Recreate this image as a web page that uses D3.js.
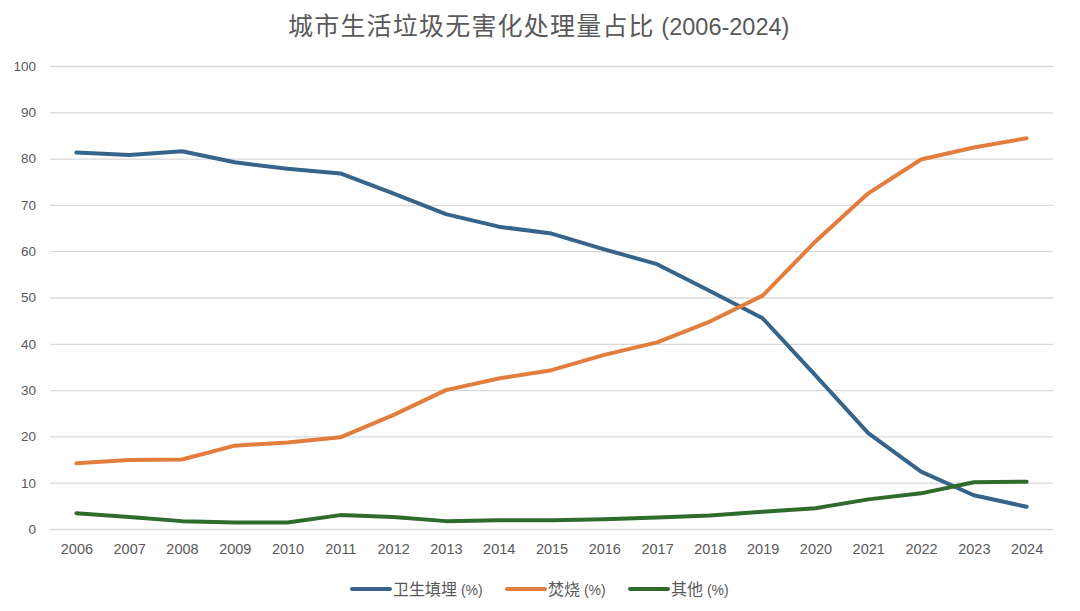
<!DOCTYPE html>
<html><head><meta charset="utf-8">
<script src="https://cdn.jsdelivr.net/npm/d3@7"></script>
<style>
body{margin:0;background:#fff;}
text{font-family:"Liberation Sans",Arial,"Noto Sans CJK SC",sans-serif;}
</style></head>
<body>
<svg id="c" width="1080" height="611"></svg>
<script>
const years = ["2006","2007","2008","2009","2010","2011","2012","2013","2014","2015","2016","2017","2018","2019","2020","2021","2022","2023","2024"];
const landfill = [81.3,80.8,81.6,79.2,77.8,76.8,72.5,68.0,65.3,63.8,60.4,57.2,51.4,45.5,33.2,20.7,12.4,7.3,4.8];
const incineration = [14.2,14.9,15.0,18.0,18.7,19.8,24.6,30.0,32.5,34.3,37.6,40.3,44.8,50.4,62.1,72.5,79.8,82.4,84.4];
const other = [3.4,2.6,1.7,1.4,1.4,3.0,2.6,1.7,1.9,1.9,2.1,2.5,2.9,3.7,4.5,6.4,7.7,10.1,10.2];
const yTicks = [0,10,20,30,40,50,60,70,80,90,100];
const seriesCJK = ["卫生填埋","焚烧","其他"];
const seriesUnit = " (%)";
const seriesColors = ["#36648b","#e27d3d","#2e6b2c"];
const titleCJK = "城市生活垃圾无害化处理量占比";
const titleLatin = " (2006-2024)";

const svg = d3.select("#c");
const x = d3.scalePoint().domain(years).range([50,1053]).padding(0.5);
const y = d3.scaleLinear().domain([0,100]).range([529,66]);

const t = svg.append("text").attr("x",288).attr("y",35).attr("fill","#595959");
t.append("tspan").attr("font-family","'Noto Sans CJK SC',sans-serif").attr("font-size",25)
  .attr("letter-spacing",1.2).text(titleCJK);
t.append("tspan").attr("font-size",23.5).text(titleLatin);

const gy = svg.append("g").attr("transform","translate(50,0)")
  .call(d3.axisLeft(y).tickValues(yTicks).tickSize(-1003).tickPadding(14));
gy.select(".domain").remove();
gy.selectAll(".tick line").attr("stroke","#d9d9d9").attr("stroke-width",1.3);
gy.selectAll(".tick text").attr("fill","#595959").attr("font-size",13.5);

const gx = svg.append("g").attr("transform","translate(0,529)")
  .call(d3.axisBottom(x).tickSize(0).tickPadding(15));
gx.select(".domain").remove();
gx.selectAll(".tick text").attr("fill","#595959").attr("font-size",14.5);

const line = d3.line().x((d,i)=>x(years[i])).y(d=>y(d));
[landfill,incineration,other].forEach((s,i)=>{
  svg.append("path").datum(s).attr("d",line).attr("fill","none")
    .attr("stroke",seriesColors[i]).attr("stroke-width",4)
    .attr("stroke-linecap","round").attr("stroke-linejoin","round");
});

const legX = [352,507,630];
const lg = svg.append("g");
seriesCJK.forEach((n,i)=>{
  lg.append("line").attr("x1",legX[i]).attr("x2",legX[i]+38).attr("y1",589).attr("y2",589)
    .attr("stroke",seriesColors[i]).attr("stroke-width",4).attr("stroke-linecap","round");
  const tx = lg.append("text").attr("x",legX[i]+41).attr("y",595).attr("fill","#595959");
  tx.append("tspan").attr("font-family","'Noto Sans CJK SC',sans-serif").attr("font-size",16).text(n);
  tx.append("tspan").attr("font-size",14).text(seriesUnit);
});
</script>
</body></html>
